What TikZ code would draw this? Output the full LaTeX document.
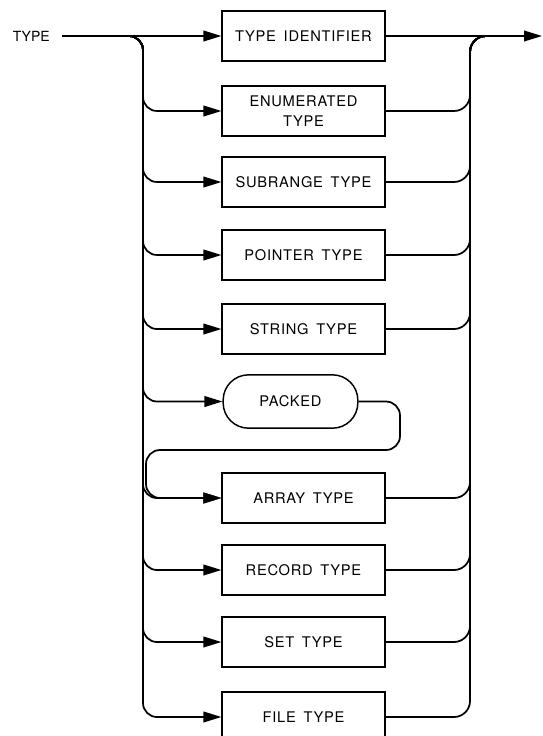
\documentclass[tikz,border=0pt]{standalone}
\usepackage{fontspec}
\newfontfamily\railfont{TeX Gyre Heros}[LetterSpace=5, WordSpace=1.6]
\newfontfamily\namefont{TeX Gyre Heros}
\usetikzlibrary{arrows.meta}
\tikzset{
  box/.style  = {draw=black, line width=1.1pt, minimum width=122pt, minimum height=37.5pt,
                 inner sep=0pt, align=center, font=\railfont\fontsize{11}{15.5}\selectfont},
  pill/.style = {box, rounded corners=19pt, minimum width=101pt, minimum height=40pt},
  lbl/.style  = {inner sep=0pt, font=\namefont\fontsize{10.5}{13}\selectfont},
  wire/.style = {line width=1.3pt, draw=black, rounded corners=10.5pt},
  fl/.style   = {wire, -{Triangle[length=13.5pt, width=8pt]}},
}

\begin{document}
\begin{tikzpicture}[x=0.75pt, y=-0.75pt]
\clip (0,0) rectangle (543,736);

\node[lbl, anchor=east] (name) at (50,36) {TYPE};
\coordinate (in)   at (62,36);
\coordinate (lbus) at (143,36);
\coordinate (rbus) at (470,36);
\coordinate (rjn)  at (500,36);
\coordinate (out)  at (542,36);
\coordinate (lpr)  at (400,450);
\coordinate (lret) at (146,450);

\node[box]  (tid)  at (303.5,36)  {TYPE IDENTIFIER};
\node[box]  (enum) at (303.5,111) {ENUMERATED\\TYPE};
\node[box]  (subr) at (303.5,182) {SUBRANGE TYPE};
\node[box]  (ptr)  at (303.5,255) {POINTER TYPE};
\node[box]  (str)  at (303.5,329) {STRING TYPE};
\node[pill] (pack) at (290.5,401.5) {PACKED};
\node[box]  (arr)  at (303.5,498) {ARRAY TYPE};
\node[box]  (rec)  at (303.5,570) {RECORD TYPE};
\node[box]  (set)  at (303.5,642) {SET TYPE};
\node[box]  (file) at (303.5,717) {FILE TYPE};

% way in
\draw[fl] (in) -- (tid.west);
\draw[fl] (in) -| (lbus |- enum.west) -- (enum.west);
\draw[fl] (in) -| (lbus |- subr.west) -- (subr.west);
\draw[fl] (in) -| (lbus |- ptr.west) -- (ptr.west);
\draw[fl] (in) -| (lbus |- str.west) -- (str.west);
\draw[fl] (in) -| (lbus |- pack.west) -- (pack.west);
\draw[fl] (in) -| (lbus |- arr.west) -- (arr.west);
\draw[fl] (in) -| (lbus |- rec.west) -- (rec.west);
\draw[fl] (in) -| (lbus |- set.west) -- (set.west);
\draw[fl] (in) -| (lbus |- file.west) -- (file.west);

% packed loops back
\draw[fl] (pack.east) -| (lpr) -| (lret |- arr.west) -- (arr.west);

% way out
\draw[fl] (tid.east) -- (out);
\draw[wire, rounded corners=12pt] (enum.east) -| (rbus) -- (rjn);
\draw[wire, rounded corners=12pt] (subr.east) -| (rbus) -- (rjn);
\draw[wire, rounded corners=12pt] (ptr.east) -| (rbus) -- (rjn);
\draw[wire, rounded corners=12pt] (str.east) -| (rbus) -- (rjn);
\draw[wire, rounded corners=12pt] (arr.east) -| (rbus) -- (rjn);
\draw[wire, rounded corners=12pt] (rec.east) -| (rbus) -- (rjn);
\draw[wire, rounded corners=12pt] (set.east) -| (rbus) -- (rjn);
\draw[wire, rounded corners=12pt] (file.east) -| (rbus) -- (rjn);
\end{tikzpicture}
\end{document}
